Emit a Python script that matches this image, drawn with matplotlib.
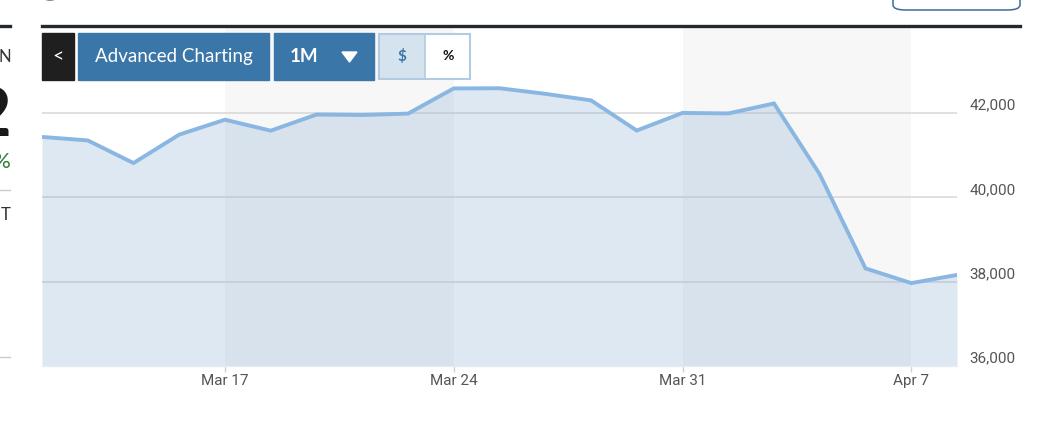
import matplotlib
matplotlib.use("Agg")
import matplotlib.pyplot as plt
from matplotlib.patches import Rectangle, Polygon, FancyBboxPatch, Wedge
from matplotlib.lines import Line2D
from matplotlib.transforms import ScaledTranslation

# ---- data ----
dates = ["Mar 11", "Mar 12", "Mar 13", "Mar 14", "Mar 17", "Mar 18", "Mar 19",
         "Mar 20", "Mar 21", "Mar 24", "Mar 25", "Mar 26", "Mar 27", "Mar 28",
         "Mar 31", "Apr 1", "Apr 2", "Apr 3", "Apr 4", "Apr 7", "Apr 8"]
values = [41433, 41350, 40813, 41488, 41841, 41581, 41964, 41953, 41985, 42583,
          42587, 42455, 42300, 41584, 42002, 41990, 42226, 40546, 38315, 37966,
          38160]
tick_labels = ["Mar 17", "Mar 24", "Mar 31", "Apr 7"]
y_ticks = [36000, 38000, 40000, 42000]
y_min, y_max = 36000, 44016

W, H = 1062, 425
fig = plt.figure(figsize=(W / 100, H / 100), dpi=100)
fig.patch.set_facecolor("white")


def fx(x):
    return x / W


def fy(y):
    return 1 - y / H


# ---- axes ----
L, R, T, B = 42, 957, 28, 366
ax = fig.add_axes([fx(L), fy(B), (R - L) / W, (B - T) / H])
xs = list(range(len(dates)))
ax.set_xlim(0, len(dates) - 1)
ax.set_ylim(y_min, y_max)

tick_pos = [dates.index(t) for t in tick_labels]
# alternating week bands
for a, b in [(tick_pos[0], tick_pos[1]), (tick_pos[2], tick_pos[3])]:
    ax.axvspan(a, b, color="#f7f7f7", zorder=0, lw=0)

for yv in y_ticks[1:]:
    ax.axhline(yv, color="#dadada", lw=1.2, zorder=1)

ax.fill_between(xs, values, y_min, color="#7ba7cf", alpha=0.25, lw=0, zorder=2)
ax.plot(xs, values, color="#8ab6e2", lw=2.8, solid_joinstyle="miter", zorder=3)

for s in ["top", "left", "right"]:
    ax.spines[s].set_visible(False)
ax.spines["bottom"].set_color("#e6ecf1")
ax.spines["bottom"].set_linewidth(1)
ax.patch.set_alpha(0)

ax.set_xticks(tick_pos)
ax.set_xticklabels(tick_labels)
ax.tick_params(axis="x", length=4, width=1, color="#c8d3dd", pad=1.5,
               labelsize=11, labelcolor="#555555")
for lab in ax.get_xticklabels():
    lab.set_fontfamily("Roboto")

ax.yaxis.tick_right()
ax.set_yticks(y_ticks)
ax.set_yticklabels([f"{v:,}" for v in y_ticks])
ax.tick_params(axis="y", length=0, pad=9, labelsize=11, labelcolor="#555555")
for lab in ax.get_yticklabels():
    lab.set_fontfamily("Roboto")
    lab.set_transform(lab.get_transform() + ScaledTranslation(0, 9 / 100, fig.dpi_scale_trans))


# ---- page decorations ----
def rect(x0, y0, x1, y1, **kw):
    p = Rectangle((fx(x0), fy(y1)), (x1 - x0) / W, (y1 - y0) / H,
                  transform=fig.transFigure, **kw)
    fig.add_artist(p)
    return p


def hline(x0, x1, y, color, lw):
    fig.add_artist(Line2D([fx(x0), fx(x1)], [fy(y), fy(y)], color=color, lw=lw,
                          transform=fig.transFigure))


hline(42, 1020, 26, "#22292f", 2.4)
hline(0, 10, 26, "#22292f", 2.4)
hline(0, 10, 190, "#cccccc", 1)
hline(0, 10, 357, "#cccccc", 1)

# top-right rounded button (cropped)
fig.add_artist(FancyBboxPatch((fx(893), fy(10)), (1020 - 893) / W, 25 / H,
                              boxstyle="round,pad=0,rounding_size=0.012",
                              transform=fig.transFigure, fc="white",
                              ec="#3a6d98", lw=1.1))
# cropped glyph at top-left
fig.add_artist(Wedge((fx(50), fy(-4)), 0.009, 180, 360,
                     transform=fig.transFigure, color="#222222"))

# left column cropped text
fig.text(fx(11), fy(57), "N", ha="right", va="center", fontsize=12,
         color="#333333", family="Lato")
fig.text(fx(11), fy(136), "2", ha="right", va="baseline", fontsize=48,
         color="#1a1a1a", family="Lato", fontweight="bold")
fig.text(fx(11), fy(162), "%", ha="right", va="center", fontsize=16,
         color="#2e7d32", family="Lato")
fig.text(fx(11), fy(215), "T", ha="right", va="center", fontsize=12,
         color="#333333", family="Lato")

# toolbar
rect(42, 33, 74, 80, color="#1f1f1f", zorder=5)
fig.text(fx(58), fy(57), "<", ha="center", va="center", color="white",
         fontsize=14, family="Lato", zorder=6)
rect(78, 33, 269, 80, color="#3a76a8", zorder=5)
fig.text(fx(173.5), fy(56.5), "Advanced Charting", ha="center", va="center",
         color="white", fontsize=13.5, family="Lato", zorder=6)
rect(274, 33, 374, 80, color="#3a76a8", zorder=5)
fig.text(fx(304), fy(56.5), "1M", ha="center", va="center", color="white",
         fontsize=13.5, family="Lato", fontweight="bold", zorder=6)
fig.add_artist(Polygon([(fx(342), fy(52)), (fx(357), fy(52)), (fx(349.5), fy(62))],
                       closed=True, transform=fig.transFigure, color="white", zorder=6))
rect(379, 34, 425, 79, fc="#d5e3ef", ec="none", zorder=5)
rect(425, 34, 470, 79, fc="white", ec="none", zorder=5)
rect(379, 34, 470, 79, fc="none", ec="#b3cbe0", lw=1.5, zorder=6)
fig.add_artist(Line2D([fx(425), fx(425)], [fy(34), fy(79)], color="#b3cbe0", lw=1.2,
                      transform=fig.transFigure, zorder=6))
fig.text(fx(402), fy(56.5), "$", ha="center", va="center", color="#3a76a8",
         fontsize=11, family="Lato", fontweight="bold", zorder=7)
fig.text(fx(448), fy(56.5), "%", ha="center", va="center", color="#111111",
         fontsize=10, family="Lato", fontweight="bold", zorder=7)

fig.savefig("out.png", dpi=100)
